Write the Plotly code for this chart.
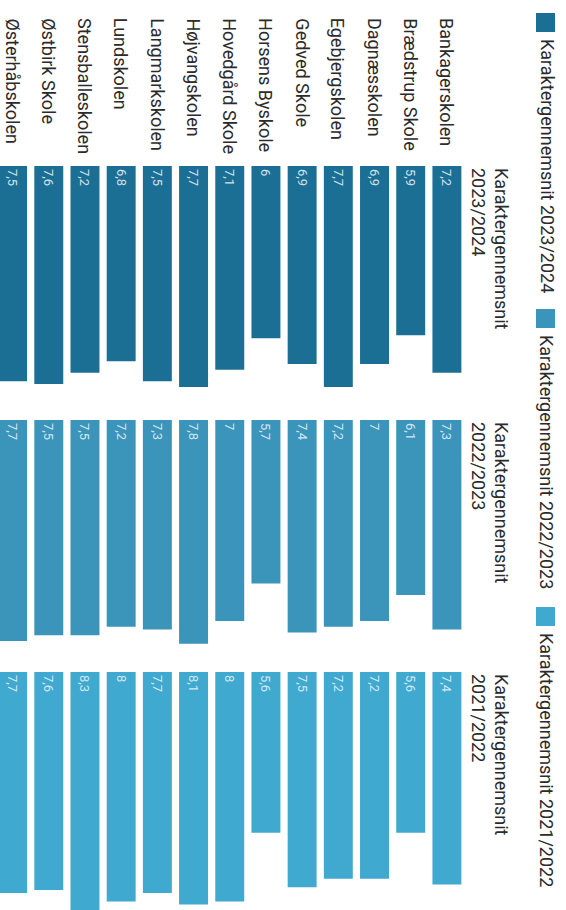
import plotly.graph_objects as go

# ---- data ----
schools = ["Bankagerskolen", "Brædstrup Skole", "Dagnæsskolen", "Egebjergskolen",
           "Gedved Skole", "Horsens Byskole", "Hovedgård Skole", "Højvangskolen",
           "Langmarkskolen", "Lundskolen", "Stensballeskolen", "Østbirk Skole",
           "Østerhåbskolen"]
series_names = ["Karaktergennemsnit 2023/2024", "Karaktergennemsnit 2022/2023",
                "Karaktergennemsnit 2021/2022"]
facet_titles = ["Karaktergennemsnit<br>2023/2024", "Karaktergennemsnit<br>2022/2023",
                "Karaktergennemsnit<br>2021/2022"]
v_2023_2024 = [7.2, 5.9, 6.9, 7.7, 6.9, 6.0, 7.1, 7.7, 7.5, 6.8, 7.2, 7.6, 7.5]
v_2022_2023 = [7.3, 6.1, 7.0, 7.2, 7.4, 5.7, 7.0, 7.8, 7.3, 7.2, 7.5, 7.5, 7.7]
v_2021_2022 = [7.4, 5.6, 7.2, 7.2, 7.5, 5.6, 8.0, 8.1, 7.7, 8.0, 8.3, 7.6, 7.7]

colors = ["#1c6f94", "#3b94ba", "#40a9cf"]
W, H = 566, 910
FONT = "Roboto"
TXT = "#2b2b2b"

def fmt(v):
    return f"{v:g}".replace(".", ",")

def py(px):
    return 1 - px / H

def pxx(px):
    return px / W

series = [v_2023_2024, v_2022_2023, v_2021_2022]
# facet pixel extents (top, bottom) in the rotated picture
facets = [(166, 404), (420, 658), (672, 910)]
scale = 28.7  # pixels per grade unit

fig = go.Figure()
axis_names = ["y", "y2", "y3"]
for i, vals in enumerate(series):
    fig.add_trace(go.Bar(
        x=schools, y=vals, name=series_names[i],
        marker=dict(color=colors[i], line=dict(width=0)),
        text=[fmt(v) for v in vals],
        textposition="inside", insidetextanchor="start", textangle=90,
        textfont=dict(family=FONT, size=13, color="rgba(228,240,246,0.9)"),
        constraintext="none",
        xaxis="x", yaxis=axis_names[i], showlegend=False,
        hoverinfo="skip",
    ))

cat_order = list(reversed(schools))
layout = dict(
    width=W, height=H, margin=dict(l=0, r=0, t=0, b=0),
    paper_bgcolor="white", plot_bgcolor="white",
    bargap=0.2, font=dict(family=FONT, color=TXT),
    xaxis=dict(domain=[0, pxx(465)], categoryorder="array", categoryarray=cat_order,
               range=[-0.348, 12.5], showticklabels=False, showgrid=False,
               zeroline=False, showline=False, ticks="", anchor="y"),
)
for i, (top, bot) in enumerate(facets):
    key = "yaxis" if i == 0 else f"yaxis{i+1}"
    R = (bot - top) / scale
    layout[key] = dict(domain=[max(0, py(bot)), py(top)], range=[R, 0],
                       showticklabels=False, showgrid=False, zeroline=False,
                       showline=False, ticks="", anchor="x")
fig.update_layout(**layout)

annotations = []
# school names (original y-axis labels)
for s in schools:
    annotations.append(dict(x=s, xref="x", y=py(16), yref="paper", text=s,
                            showarrow=False, textangle=90, xanchor="center",
                            yanchor="top", font=dict(size=18, color=TXT)))
# facet titles
for i, (top, bot) in enumerate(facets):
    annotations.append(dict(x=pxx(490), xref="paper", y=py(top), yref="paper",
                            text=facet_titles[i], showarrow=False, textangle=90,
                            xanchor="center", yanchor="top", align="left",
                            font=dict(size=18, color=TXT)))
# custom rotated legend
leg_y = [13, 309, 607]
shapes = []
for i, y0 in enumerate(leg_y):
    shapes.append(dict(type="rect", xref="paper", yref="paper",
                       x0=pxx(536), x1=pxx(555), y0=py(y0 + 19), y1=py(y0),
                       fillcolor=colors[i], line=dict(width=0)))
    annotations.append(dict(x=pxx(547), xref="paper", y=py(y0 + 24), yref="paper",
                            text=series_names[i], showarrow=False, textangle=90,
                            xanchor="center", yanchor="top",
                            font=dict(size=18, color=TXT)))
fig.update_layout(annotations=annotations, shapes=shapes)

fig.write_html("out.html", config={"displayModeBar": False},
               post_script="document.body.style.margin='0';")
